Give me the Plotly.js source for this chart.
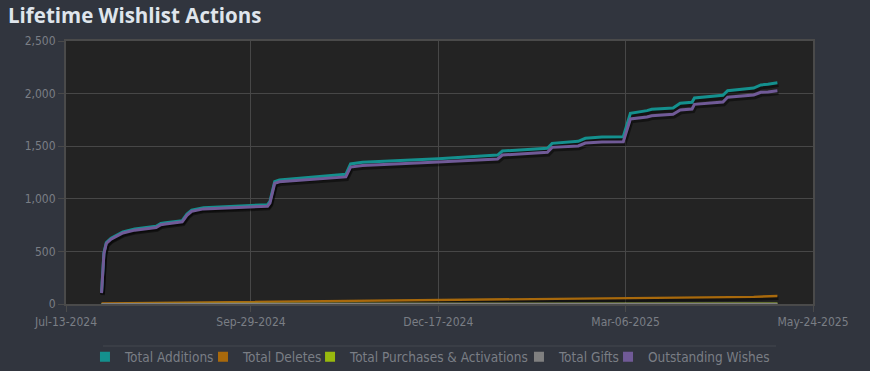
<!DOCTYPE html>
<html><head><meta charset="utf-8">
<script src="https://cdn.plot.ly/plotly-3.0.1.min.js"></script>
<style>html,body{margin:0;padding:0;background:#31353e;}</style>
</head><body><div id="chart" style="width:870px;height:371px;"></div>
<script>
const wishDates = ['2024-07-28','2024-07-29','2024-07-30','2024-08-01','2024-08-06','2024-08-11','2024-08-20','2024-08-22','2024-08-24','2024-08-30','2024-08-31','2024-09-02','2024-09-04','2024-09-09','2024-09-19','2024-10-06','2024-10-07','2024-10-09','2024-10-11','2024-10-25','2024-11-08','2024-11-10','2024-11-15','2024-12-17','2025-01-11','2025-01-13','2025-02-01','2025-02-03','2025-02-14','2025-02-17','2025-02-24','2025-03-05','2025-03-06','2025-03-08','2025-03-15','2025-03-17','2025-03-26','2025-03-29','2025-04-03','2025-04-04','2025-04-16','2025-04-18','2025-04-29','2025-05-02','2025-05-05','2025-05-09'];
const totalAdditions = [112,488,584,625,685,712,738,765,772,790,792,855,893,916,928,944,975,1163,1180,1204,1233,1331,1347,1381,1416,1454,1480,1527,1546,1575,1587,1590,1670,1813,1838,1851,1863,1908,1917,1958,1984,2028,2053,2082,2088,2104];
const outstandingWishes = [103,479,575,616,675,702,727,754,761,779,781,843,881,904,915,930,960,1146,1162,1183,1208,1302,1316,1350,1379,1416,1442,1489,1502,1530,1541,1543,1617,1759,1778,1790,1803,1844,1854,1898,1920,1965,1987,2012,2016,2028];
const deleteDates = ['2024-07-28','2024-08-15','2024-09-10','2024-10-11','2024-11-10','2024-12-17','2025-01-13','2025-02-14','2025-03-08','2025-04-04','2025-04-29','2025-05-09'];
const totalDeletes = [5,9,13,20,29,36,40,46,53,61,68,76];
const purchaseDates = ['2024-07-28','2024-09-10','2024-12-17','2025-03-08','2025-05-09'];
const totalPurchases = [1,2,3,3,4];
const giftDates = ['2024-07-28','2024-12-17','2025-05-09'];
const totalGifts = [1,2,3];

const seriesNames = ['Total Additions','Total Deletes','Total Purchases & Activations','Total Gifts','Outstanding Wishes'];
const seriesColors = ['#14908e','#a8690c','#98b90e','#808080','#705a97'];
const xTickDates = ['2024-07-13','2024-09-29','2024-12-17','2025-03-06','2025-05-24'];
const xRange = ['2024-07-13','2025-05-24'];
const yRange = [0,2500];
// shadow scale: same span, shifted ~1px right and ~2px down
const xRangeShadow = ['2024-07-12 13:54','2025-05-23 13:54'];
const yRangeShadow = [19,2519];
const legendX = [0.0254,0.1834,0.3267,0.6064,0.7256];

const tickFont = {family:"'DejaVu Sans Condensed','Liberation Sans Narrow','Roboto Condensed',sans-serif", size:12, color:'#7a7e85'};

const xs = [wishDates, deleteDates, purchaseDates, giftDates, wishDates];
const ys = [totalAdditions, totalDeletes, totalPurchases, totalGifts, outstandingWishes];
const widths = [3, 2.4, 2, 2, 3];

const data = [];
for (let i = 0; i < 5; i++) {
  data.push({type:'scatter', mode:'lines', x: xs[i], y: ys[i], name: seriesNames[i], xaxis:'x2', yaxis:'y2',
    line:{color:'rgba(0,0,0,0.45)', width: widths[i] + 1.5}, showlegend:false, hoverinfo:'skip'});
}
for (let i = 0; i < 5; i++) {
  data.push({type:'scatter', mode:'lines', x: xs[i], y: ys[i], name: seriesNames[i], xaxis:'x3', yaxis:'y3',
    line:{color: seriesColors[i], width: widths[i]}, showlegend:false, hoverinfo:'skip'});
}
for (let i = 0; i < 5; i++) {
  data.push({type:'scatter', mode:'markers', x:[null], y:[null], name: seriesNames[i],
    marker:{symbol:'square', size:10, color: seriesColors[i]}, showlegend:true,
    legend: i === 0 ? 'legend' : 'legend' + (i+1), hoverinfo:'skip'});
}

const layout = {
  width:870, height:371,
  margin:{l:66, r:57, t:41, b:67, autoexpand:false},
  paper_bgcolor:'#31353e', plot_bgcolor:'#232323',
  title:{text:'Lifetime Wishlist Actions', x:8/870, xanchor:'left', xref:'container', y:1-16/371, yanchor:'middle', yref:'container',
    font:{family:"'Open Sans','Noto Sans',sans-serif", size:20.5, color:'#dfe5ec', weight:700}},
  xaxis:{type:'date', range:xRange, tickvals:xTickDates, tickformat:'%b-%d-%Y', showgrid:true, gridcolor:'#474747', gridwidth:1,
    showline:true, linecolor:'#4a4a4a', linewidth:2, mirror:true, ticks:'outside', ticklen:6, tickcolor:'#4a4a4a', tickfont:tickFont, zeroline:false, fixedrange:true},
  yaxis:{range:yRange, dtick:500, tickformat:',d', showgrid:true, gridcolor:'#474747', gridwidth:1,
    showline:true, linecolor:'#4a4a4a', linewidth:2, mirror:true, ticks:'outside', ticklen:6, tickcolor:'#4a4a4a', tickfont:tickFont, zeroline:false, fixedrange:true},
  xaxis2:{type:'date', range:xRangeShadow, overlaying:'x', visible:false, fixedrange:true},
  yaxis2:{range:yRangeShadow, overlaying:'y', visible:false, fixedrange:true},
  xaxis3:{type:'date', range:xRange, overlaying:'x', visible:false, fixedrange:true},
  yaxis3:{range:yRange, overlaying:'y', visible:false, fixedrange:true},
  shapes:[{type:'line', xref:'paper', yref:'paper', x0:(103-66)/747, x1:(776-66)/747, y0:(304-346)/263, y1:(304-346)/263, line:{color:'#44484f', width:1}}],
  showlegend:true
};
const legendFont = {family:"'DejaVu Sans Condensed','Liberation Sans Narrow','Roboto Condensed',sans-serif", size:13.5, color:'#7a7e85'};
for (let i = 0; i < 5; i++) {
  const key = i === 0 ? 'legend' : 'legend' + (i+1);
  layout[key] = {orientation:'h', x: legendX[i], xanchor:'left', y:(304-357)/263, yanchor:'middle', font: legendFont, bgcolor:'rgba(0,0,0,0)', borderwidth:0};
}
Plotly.newPlot('chart', data, layout, {staticPlot:true, displayModeBar:false});
</script></body></html>
